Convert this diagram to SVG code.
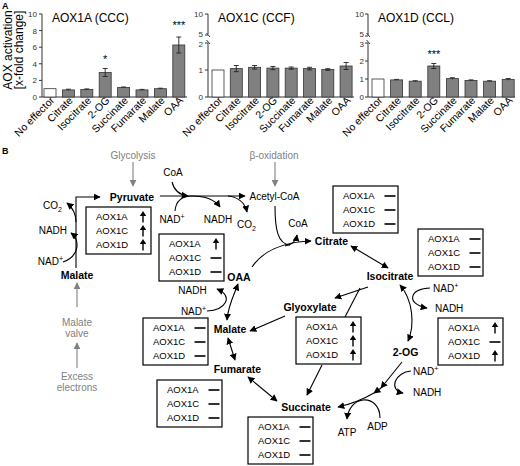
<svg xmlns="http://www.w3.org/2000/svg" xmlns:xlink="http://www.w3.org/1999/xlink" width="520" height="466" viewBox="0 0 520 466">
<style>
text{font-family:"Liberation Sans",Arial,sans-serif;fill:#000}
.pl{font-size:9px;font-weight:bold}
.ct{font-size:12px}
.yt{font-size:12px;text-anchor:middle}
.tk{font-size:8px;text-anchor:end;fill:#333}
.xl{font-size:10.5px;text-anchor:end}
.st{font-size:11px;text-anchor:middle}
.ax{stroke:#333;stroke-width:1;fill:none}
.bar{fill:#808080;stroke:#333;stroke-width:0.8}
.bw{fill:#fff;stroke:#333;stroke-width:0.8}
.eb{stroke:#222;stroke-width:0.9;fill:none}
.mb{font-size:10.5px;font-weight:bold;text-anchor:middle}
.lb{font-size:10px}
.gl{font-size:10px;fill:#808080;text-anchor:middle}
.bx{font-size:9.5px}
.box{fill:#fff;stroke:#000;stroke-width:1.2}
.cn{stroke:#000;stroke-width:1.1;fill:none}
.cg{stroke:#808080;stroke-width:1.1;fill:none}
</style>
<defs>
<marker id="ah" viewBox="0 0 10 10" refX="9" refY="5" markerWidth="7" markerHeight="7" markerUnits="userSpaceOnUse" orient="auto-start-reverse"><path d="M0,0 L10,5 L0,10 z" fill="#000"/></marker>
<marker id="ahg" viewBox="0 0 10 10" refX="9" refY="5" markerWidth="7" markerHeight="7" markerUnits="userSpaceOnUse" orient="auto-start-reverse"><path d="M0,0 L10,5 L0,10 z" fill="#808080"/></marker>
<g id="sym-up"><path d="M0,5.5 V-2" stroke="#000" stroke-width="1.4"/><path d="M0,-6 L-3.2,-1 L3.2,-1 Z" fill="#000"/></g>
<g id="sym-dash"><path d="M-5.5,0 H5.5" stroke="#000" stroke-width="1.6"/></g>
</defs>

<!-- Panel A -->
<text class="pl" x="2" y="9">A</text>
<g id="yaxis-title">
<text class="yt" transform="translate(12,50) rotate(-90)">AOX activation</text>
<text class="yt" transform="translate(23,50) rotate(-90)">[x-fold change]</text>
</g>

<g id="chart-aox1a">
<text class="ct" x="52" y="22">AOX1A (CCC)</text>
<path class="ax" d="M42,14 V97 H187"/>
<path class="ax" d="M39,97 H42 M39,80.4 H42 M39,63.8 H42 M39,47.2 H42 M39,30.6 H42 M39,14 H42"/>
<text class="tk" x="37" y="100">0</text>
<text class="tk" x="37" y="83.4">2</text>
<text class="tk" x="37" y="66.8">4</text>
<text class="tk" x="37" y="50.2">6</text>
<text class="tk" x="37" y="33.6">8</text>
<text class="tk" x="37" y="17">10</text>
<rect class="bw" x="44" y="88.7" width="12" height="8.3"/>
<rect class="bar" x="62.4" y="89.9" width="12" height="7.1"/>
<rect class="bar" x="80.8" y="89.5" width="12" height="7.5"/>
<rect class="bar" x="99.2" y="72.5" width="12" height="24.5"/>
<rect class="bar" x="117.6" y="87.5" width="12" height="9.5"/>
<rect class="bar" x="136" y="89.9" width="12" height="7.1"/>
<rect class="bar" x="154.4" y="88.7" width="12" height="8.3"/>
<rect class="bar" x="172.8" y="45" width="12" height="52"/>
<path class="eb" d="M105.2,68.5 V76.5 M102.7,68.5 H107.7 M102.7,76.5 H107.7 M178.8,37 V53 M176.3,37 H181.3 M176.3,53 H181.3 M68.4,89.2 V90.6 M65.9,89.2 H70.9 M86.8,88.9 V90.1 M84.3,88.9 H89.3 M123.6,87 V88 M121.1,87 H126.1 M142,89.4 V90.4 M139.5,89.4 H144.5 M160.4,88.2 V89.2 M157.9,88.2 H162.9"/>
<text class="st" x="105.2" y="63">*</text>
<text class="st" x="178.8" y="29">***</text>
<text class="xl" transform="translate(55,101) rotate(-45)">No effector</text>
<text class="xl" transform="translate(73.4,101) rotate(-45)">Citrate</text>
<text class="xl" transform="translate(91.8,101) rotate(-45)">Isocitrate</text>
<text class="xl" transform="translate(110.2,101) rotate(-45)">2-OG</text>
<text class="xl" transform="translate(128.6,101) rotate(-45)">Succinate</text>
<text class="xl" transform="translate(147,101) rotate(-45)">Fumarate</text>
<text class="xl" transform="translate(165.4,101) rotate(-45)">Malate</text>
<text class="xl" transform="translate(183.8,101) rotate(-45)">OAA</text>
</g>

<g id="chart-aox1c">
<text class="ct" x="218" y="22">AOX1C (CCF)</text>
<path class="ax" d="M208,14 V34 M208,43 V97 H354"/>
<path class="ax" d="M206.5,33 L210,37 M206.5,40 L210,44"/>
<path class="ax" d="M205,97 H208 M205,70 H208 M205,43 H208 M205,35 H208 M205,14 H208"/>
<text class="tk" x="203" y="100">0</text>
<text class="tk" x="203" y="73">1</text>
<text class="tk" x="203" y="46.5">2</text>
<text class="tk" x="203" y="37">5</text>
<text class="tk" x="203" y="17">10</text>
<rect class="bw" x="212" y="70" width="12" height="27"/>
<rect class="bar" x="230.3" y="68.6" width="12" height="28.4"/>
<rect class="bar" x="248.6" y="67.3" width="12" height="29.7"/>
<rect class="bar" x="266.9" y="68.1" width="12" height="28.9"/>
<rect class="bar" x="285.2" y="68.1" width="12" height="28.9"/>
<rect class="bar" x="303.5" y="68.6" width="12" height="28.4"/>
<rect class="bar" x="321.8" y="69.5" width="12" height="27.5"/>
<rect class="bar" x="340.1" y="66" width="12" height="31"/>
<path class="eb" d="M236.3,65.5 V71.7 M233.8,65.5 H238.8 M233.8,71.7 H238.8 M254.6,65.5 V69.1 M252.1,65.5 H257.1 M252.1,69.1 H257.1 M272.9,66.5 V69.7 M270.4,66.5 H275.4 M270.4,69.7 H275.4 M291.2,67 V69.2 M288.7,67 H293.7 M288.7,69.2 H293.7 M309.5,67.3 V69.9 M307,67.3 H312 M307,69.9 H312 M327.8,68.7 V70.3 M325.3,68.7 H330.3 M325.3,70.3 H330.3 M346.1,62.5 V69.5 M343.6,62.5 H348.6 M343.6,69.5 H348.6"/>
<text class="xl" transform="translate(223,101) rotate(-45)">No effector</text>
<text class="xl" transform="translate(241.3,101) rotate(-45)">Citrate</text>
<text class="xl" transform="translate(259.6,101) rotate(-45)">Isocitrate</text>
<text class="xl" transform="translate(277.9,101) rotate(-45)">2-OG</text>
<text class="xl" transform="translate(296.2,101) rotate(-45)">Succinate</text>
<text class="xl" transform="translate(314.5,101) rotate(-45)">Fumarate</text>
<text class="xl" transform="translate(332.8,101) rotate(-45)">Malate</text>
<text class="xl" transform="translate(351.1,101) rotate(-45)">OAA</text>
</g>

<g id="chart-aox1d">
<text class="ct" x="378" y="22">AOX1D (CCL)</text>
<path class="ax" d="M368,14 V35 M368,43 V97 H515"/>
<path class="ax" d="M366.5,33 L370,37 M366.5,40 L370,44"/>
<path class="ax" d="M365,97 H368 M365,79 H368 M365,61 H368 M365,43 H368 M365,36 H368 M365,14 H368"/>
<text class="tk" x="364" y="100">0</text>
<text class="tk" x="364" y="82">1</text>
<text class="tk" x="364" y="64">2</text>
<text class="tk" x="364" y="46.8">3</text>
<text class="tk" x="364" y="37.2">5</text>
<text class="tk" x="364" y="17">10</text>
<rect class="bw" x="372" y="79" width="12" height="18"/>
<rect class="bar" x="390.6" y="79.9" width="12" height="17.1"/>
<rect class="bar" x="409.2" y="81.2" width="12" height="15.8"/>
<rect class="bar" x="427.8" y="66" width="12" height="31"/>
<rect class="bar" x="446.4" y="78.6" width="12" height="18.4"/>
<rect class="bar" x="465" y="80.4" width="12" height="16.6"/>
<rect class="bar" x="483.6" y="81.2" width="12" height="15.8"/>
<rect class="bar" x="502.2" y="79.4" width="12" height="17.6"/>
<path class="eb" d="M433.8,63.5 V68.5 M431.3,63.5 H436.3 M431.3,68.5 H436.3 M396.6,79.4 V80.4 M394.1,79.4 H399.1 M415.2,80.7 V81.7 M412.7,80.7 H417.7 M452.4,77.7 V79.5 M449.9,77.7 H454.9 M471,79.9 V80.9 M468.5,79.9 H473.5 M489.6,80.7 V81.7 M487.1,80.7 H492.1 M508.2,78.5 V80.3 M505.7,78.5 H510.7"/>
<text class="st" x="433.8" y="58">***</text>
<text class="xl" transform="translate(383,101) rotate(-45)">No effector</text>
<text class="xl" transform="translate(401.6,101) rotate(-45)">Citrate</text>
<text class="xl" transform="translate(420.2,101) rotate(-45)">Isocitrate</text>
<text class="xl" transform="translate(438.8,101) rotate(-45)">2-OG</text>
<text class="xl" transform="translate(457.4,101) rotate(-45)">Succinate</text>
<text class="xl" transform="translate(476,101) rotate(-45)">Fumarate</text>
<text class="xl" transform="translate(494.6,101) rotate(-45)">Malate</text>
<text class="xl" transform="translate(513.2,101) rotate(-45)">OAA</text>
</g>

<!-- Panel B -->
<text class="pl" x="2" y="154">B</text>

<g id="connectors">
<path class="cn" d="M76,268 V197 H100" marker-end="url(#ah)"/>
<path class="cn" d="M76,222 C76,213 73,208 67,203" marker-end="url(#ah)"/>
<path class="cn" d="M63,262 C80,256 80,240 71,233" marker-end="url(#ah)"/>
<path class="cg" d="M133,162 V186" marker-end="url(#ahg)"/>
<path class="cg" d="M275,162 V186" marker-end="url(#ahg)"/>
<path class="cg" d="M77,307 V283" marker-end="url(#ahg)"/>
<path class="cg" d="M77,368 V343" marker-end="url(#ahg)"/>
<path class="cn" d="M160,196 H245" marker-end="url(#ah)"/>
<path class="cn" d="M172,182 C174,190 179,195 188,196" marker-end="url(#ah)"/>
<path class="cn" d="M175,211 C176,200 182,196 192,196 C206,196 215,200 220,207" marker-end="url(#ah)"/>
<path class="cn" d="M228,196 C238,197 245,203 247,212" marker-end="url(#ah)"/>
<path class="cn" d="M275,206 C275,230 278,244 290,245"/>
<path class="cn" d="M252,267 C262,252 282,242 311,241" marker-end="url(#ah)"/>
<path class="cn" d="M285,246 C292,245 296,241 297,235" marker-end="url(#ah)"/>
<path class="cn" d="M351,246 L388,268" marker-start="url(#ah)" marker-end="url(#ah)"/>
<path class="cn" d="M368,287 L335,298" marker-end="url(#ah)"/>
<path class="cn" d="M360,288 L345,317"/>
<path class="cn" d="M322,365 L307,395" marker-end="url(#ah)"/>
<path class="cn" d="M285,316 L250,331" marker-end="url(#ah)"/>
<path class="cn" d="M400,285 C413,300 415,325 408,341" marker-start="url(#ah)" marker-end="url(#ah)"/>
<path class="cn" d="M430,288 C410,288 405,304 427,308" marker-end="url(#ah)"/>
<path class="cn" d="M402,362 L381,388" marker-end="url(#ah)"/>
<path class="cn" d="M381,388 L374,393" marker-end="url(#ah)"/>
<path class="cn" d="M374,393 C362,400 351,404 338,407" marker-end="url(#ah)"/>
<path class="cn" d="M411,371 C395,372 388,390 403,393" marker-end="url(#ah)"/>
<path class="cn" d="M380,418 C380,405 371,399 363,400 C354,401 348,409 347,419" marker-end="url(#ah)"/>
<path class="cn" d="M248,377 L277,401" marker-start="url(#ah)" marker-end="url(#ah)"/>
<path class="cn" d="M228,338 L235,360" marker-start="url(#ah)" marker-end="url(#ah)"/>
<path class="cn" d="M238,284 C234,295 228,306 227,320" marker-start="url(#ah)" marker-end="url(#ah)"/>
<path class="cn" d="M207,311 C226,310 234,296 217,289" marker-end="url(#ah)"/>
</g>

<g id="labels">
<text class="gl" x="133" y="158.6">Glycolysis</text>
<text class="gl" x="274" y="158.6">β-oxidation</text>
<text class="lb" x="274.5" y="199.6" text-anchor="middle">Acetyl-CoA</text>
<text class="lb" x="173" y="175.6" text-anchor="middle">CoA</text>
<text class="lb" x="172" y="222.6" text-anchor="middle">NAD<tspan dy="-4" font-size="7">+</tspan></text>
<text class="lb" x="218" y="222.6" text-anchor="middle">NADH</text>
<text class="lb" x="237" y="227.6">CO<tspan dy="3" font-size="7">2</tspan></text>
<text class="lb" x="62" y="208.6" text-anchor="end">CO<tspan dy="3" font-size="7">2</tspan></text>
<text class="lb" x="67" y="233.6" text-anchor="end">NADH</text>
<text class="lb" x="63" y="264.6" text-anchor="end">NAD<tspan dy="-4" font-size="7">+</tspan></text>
<text class="gl" x="77" y="325.6">Malate</text>
<text class="gl" x="77" y="336.6">valve</text>
<text class="gl" x="77" y="379.6">Excess</text>
<text class="gl" x="77" y="390.6">electrons</text>
<text class="lb" x="192.5" y="294" text-anchor="middle">NADH</text>
<text class="lb" x="193.5" y="314.6" text-anchor="middle">NAD<tspan dy="-4" font-size="7">+</tspan></text>
<text class="lb" x="298" y="226.6" text-anchor="middle">CoA</text>
<text class="lb" x="433" y="291.6">NAD<tspan dy="-4" font-size="7">+</tspan></text>
<text class="lb" x="435" y="311.6">NADH</text>
<text class="lb" x="413" y="374.6">NAD<tspan dy="-4" font-size="7">+</tspan></text>
<text class="lb" x="413" y="395.6">NADH</text>
<text class="lb" x="347" y="435.6" text-anchor="middle">ATP</text>
<text class="lb" x="377.5" y="429.6" text-anchor="middle">ADP</text>
</g>

<g id="node-malate-left"><text class="mb" x="77" y="278.7">Malate</text></g>
<g id="node-pyruvate"><text class="mb" x="132" y="200.7">Pyruvate</text></g>
<g id="node-oaa"><text class="mb" x="239" y="280.7">OAA</text></g>
<g id="node-citrate"><text class="mb" x="331.5" y="244.7">Citrate</text></g>
<g id="node-isocitrate"><text class="mb" x="390" y="279.7">Isocitrate</text></g>
<g id="node-glyoxylate"><text class="mb" x="310" y="310.7">Glyoxylate</text></g>
<g id="node-2og"><text class="mb" x="405.5" y="355.5">2-OG</text></g>
<g id="node-malate"><text class="mb" x="230" y="332.7">Malate</text></g>
<g id="node-fumarate"><text class="mb" x="237.5" y="372.7">Fumarate</text></g>
<g id="node-succinate"><text class="mb" x="306" y="410.7">Succinate</text></g>

<g id="box-pyruvate">
<rect class="box" x="86" y="207" width="65" height="47"/>
<text class="bx" x="96" y="220.4">AOX1A</text><text class="bx" x="96" y="234.4">AOX1C</text><text class="bx" x="96" y="248.4">AOX1D</text>
<use xlink:href="#sym-up" x="143" y="217"/><use xlink:href="#sym-up" x="143" y="231"/><use xlink:href="#sym-up" x="143" y="245"/>
</g>
<g id="box-oaa">
<rect class="box" x="159" y="234" width="65" height="47"/>
<text class="bx" x="169" y="247.4">AOX1A</text><text class="bx" x="169" y="261.4">AOX1C</text><text class="bx" x="169" y="275.4">AOX1D</text>
<use xlink:href="#sym-up" x="216" y="244"/><use xlink:href="#sym-dash" x="216" y="258"/><use xlink:href="#sym-dash" x="216" y="272"/>
</g>
<g id="box-citrate">
<rect class="box" x="333" y="186" width="65" height="47"/>
<text class="bx" x="343" y="199.4">AOX1A</text><text class="bx" x="343" y="213.4">AOX1C</text><text class="bx" x="343" y="227.4">AOX1D</text>
<use xlink:href="#sym-dash" x="390" y="196"/><use xlink:href="#sym-dash" x="390" y="210"/><use xlink:href="#sym-dash" x="390" y="224"/>
</g>
<g id="box-isocitrate">
<rect class="box" x="418" y="229" width="65" height="47"/>
<text class="bx" x="428" y="242.4">AOX1A</text><text class="bx" x="428" y="256.4">AOX1C</text><text class="bx" x="428" y="270.4">AOX1D</text>
<use xlink:href="#sym-dash" x="475" y="239"/><use xlink:href="#sym-dash" x="475" y="253"/><use xlink:href="#sym-dash" x="475" y="267"/>
</g>
<g id="box-malate">
<rect class="box" x="143" y="318" width="65" height="47"/>
<text class="bx" x="153" y="331.4">AOX1A</text><text class="bx" x="153" y="345.4">AOX1C</text><text class="bx" x="153" y="359.4">AOX1D</text>
<use xlink:href="#sym-dash" x="200" y="328"/><use xlink:href="#sym-dash" x="200" y="342"/><use xlink:href="#sym-dash" x="200" y="356"/>
</g>
<g id="box-glyoxylate">
<rect class="box" x="296" y="317" width="65" height="47"/>
<text class="bx" x="306" y="330.4">AOX1A</text><text class="bx" x="306" y="344.4">AOX1C</text><text class="bx" x="306" y="358.4">AOX1D</text>
<use xlink:href="#sym-up" x="353" y="327"/><use xlink:href="#sym-up" x="353" y="341"/><use xlink:href="#sym-up" x="353" y="355"/>
</g>
<g id="box-2og">
<rect class="box" x="438" y="318" width="65" height="47"/>
<text class="bx" x="448" y="331.4">AOX1A</text><text class="bx" x="448" y="345.4">AOX1C</text><text class="bx" x="448" y="359.4">AOX1D</text>
<use xlink:href="#sym-up" x="495" y="328"/><use xlink:href="#sym-dash" x="495" y="342"/><use xlink:href="#sym-up" x="495" y="356"/>
</g>
<g id="box-fumarate">
<rect class="box" x="157" y="380" width="65" height="47"/>
<text class="bx" x="167" y="393.4">AOX1A</text><text class="bx" x="167" y="407.4">AOX1C</text><text class="bx" x="167" y="421.4">AOX1D</text>
<use xlink:href="#sym-dash" x="214" y="390"/><use xlink:href="#sym-dash" x="214" y="404"/><use xlink:href="#sym-dash" x="214" y="418"/>
</g>
<g id="box-succinate">
<rect class="box" x="248" y="417" width="65" height="47"/>
<text class="bx" x="258" y="430.4">AOX1A</text><text class="bx" x="258" y="444.4">AOX1C</text><text class="bx" x="258" y="458.4">AOX1D</text>
<use xlink:href="#sym-dash" x="305" y="427"/><use xlink:href="#sym-dash" x="305" y="441"/><use xlink:href="#sym-dash" x="305" y="455"/>
</g>
</svg>
